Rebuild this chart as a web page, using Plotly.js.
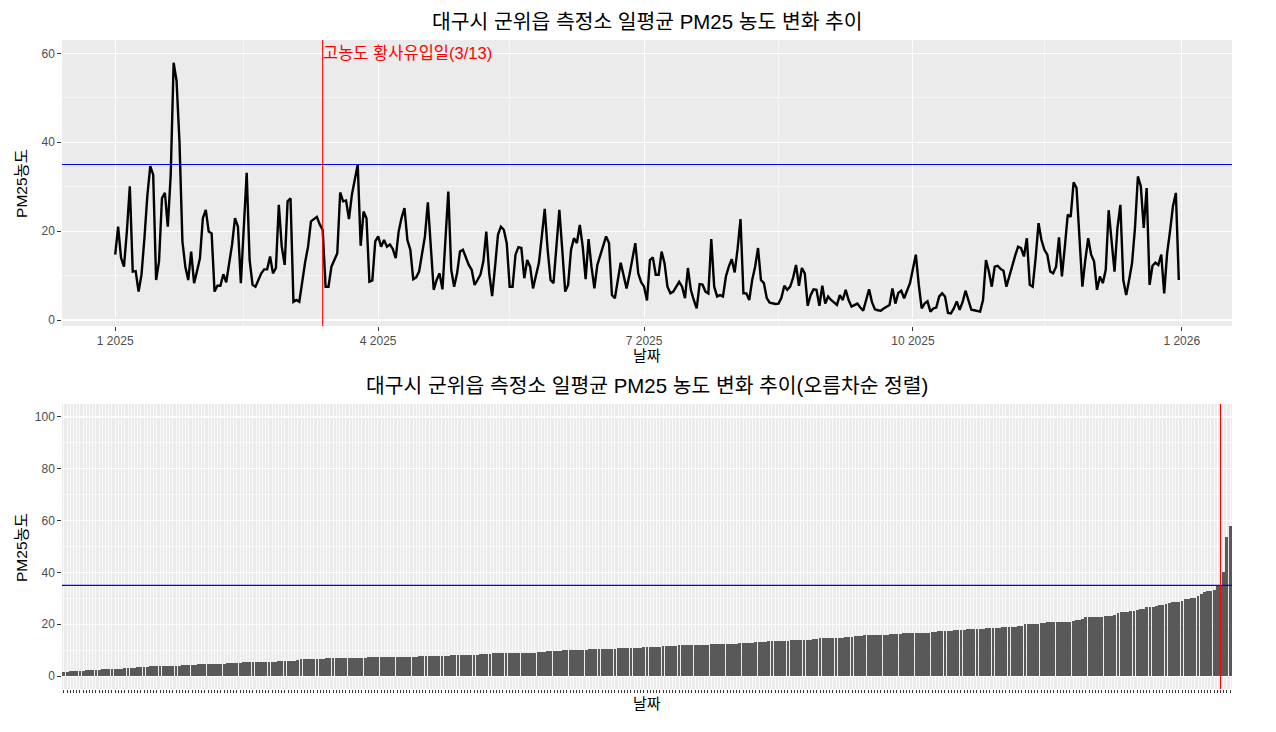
<!DOCTYPE html>
<html>
<head>
<meta charset="utf-8">
<script src="https://cdn.plot.ly/plotly-3.0.1.min.js"></script>
<style>
  html, body { margin: 0; padding: 0; background: #ffffff; }
  #chart { width: 1276px; height: 732px; }
</style>
</head>
<body>
<div id="chart"></div>
<script>
// ---- data (daily mean PM2.5, 2025-01-01 .. 2025-12-31) ----
const startDate = '2025-01-01';
const pm25 = [
  14.7, 21.0, 14.0, 12.0, 20.0, 30.1, 10.9, 11.0, 6.4, 10.2,
  18.4, 28.0, 34.6, 32.7, 9.0, 13.2, 27.4, 28.6, 21.0, 32.7,
  57.9, 53.8, 40.0, 17.7, 12.0, 9.0, 15.4, 8.3, 11.0, 13.9,
  22.9, 24.8, 19.9, 19.5, 6.4, 7.7, 7.7, 10.3, 8.5, 12.4,
  17.0, 22.9, 21.0, 8.3, 21.0, 33.1, 13.5, 7.9, 7.5, 9.0,
  10.5, 11.4, 11.4, 14.3, 10.5, 11.7, 25.9, 16.5, 12.4, 26.7,
  27.4, 4.1, 4.5, 4.1, 9.0, 13.0, 16.5, 22.2, 22.7, 23.2,
  21.5, 20.3, 7.5, 7.5, 12.0, 13.5, 15.0, 28.7, 26.7, 26.9,
  22.7, 28.2, 31.5, 35.0, 16.7, 24.4, 22.9, 8.6, 8.9, 17.7,
  18.8, 16.5, 18.0, 16.5, 17.0, 16.0, 13.9, 19.9, 23.0, 25.2,
  18.0, 15.8, 9.2, 9.6, 10.9, 15.0, 18.8, 26.5, 17.3, 6.8,
  9.0, 10.5, 6.9, 18.0, 28.9, 11.3, 7.5, 10.5, 15.4, 15.8,
  13.9, 12.4, 11.3, 7.9, 9.0, 10.2, 13.2, 19.9, 10.5, 5.4,
  12.0, 19.2, 21.0, 20.3, 17.3, 7.5, 7.5, 14.7, 16.4, 16.2,
  9.4, 13.5, 12.0, 7.1, 10.0, 12.8, 18.8, 25.0, 15.8, 9.0,
  8.3, 17.7, 24.8, 15.8, 6.4, 7.9, 15.8, 18.4, 17.3, 21.4,
  16.5, 9.2, 18.2, 12.0, 7.1, 12.4, 14.7, 16.5, 18.8, 17.3,
  5.6, 4.9, 9.0, 12.9, 10.0, 7.1, 10.2, 14.0, 17.3, 10.5,
  8.5, 7.5, 4.4, 13.5, 14.1, 10.2, 10.2, 15.4, 12.8, 7.5,
  6.0, 6.4, 7.5, 8.6, 7.5, 4.9, 11.7, 6.8, 4.5, 2.6,
  8.1, 8.0, 6.4, 6.0, 18.2, 7.5, 5.3, 5.6, 5.3, 9.8,
  12.0, 13.7, 10.7, 16.0, 22.7, 6.0, 6.0, 4.5, 9.0, 12.0,
  16.2, 9.0, 8.3, 4.9, 3.9, 3.7, 3.6, 3.7, 5.0, 7.7,
  6.8, 7.5, 9.5, 12.4, 7.7, 11.7, 10.5, 3.2, 5.6, 6.9,
  6.8, 3.2, 7.7, 3.7, 5.3, 4.5, 3.9, 3.4, 5.6, 4.5,
  6.8, 4.5, 3.0, 3.4, 3.7, 2.8, 2.1, 4.5, 6.9, 4.0,
  2.4, 2.2, 2.1, 2.6, 3.0, 3.4, 7.1, 3.7, 6.1, 6.6,
  4.9, 6.5, 8.3, 11.5, 14.7, 8.0, 2.6, 3.7, 4.2, 1.9,
  2.6, 2.8, 5.3, 6.0, 5.3, 1.6, 1.5, 2.6, 4.2, 2.3,
  4.0, 6.6, 4.5, 2.3, 2.2, 2.1, 1.9, 4.5, 13.5, 10.9,
  7.5, 12.0, 12.2, 11.5, 11.1, 7.5, 10.0, 12.4, 14.5, 16.5,
  16.2, 14.3, 18.4, 7.9, 7.5, 14.0, 21.8, 18.0, 15.8, 14.7,
  10.9, 10.5, 12.0, 18.6, 9.8, 16.5, 23.7, 23.2, 31.0, 29.7,
  18.8, 7.5, 13.5, 18.4, 14.7, 13.2, 6.8, 9.8, 8.3, 11.3,
  24.7, 17.7, 10.9, 20.7, 25.9, 9.0, 5.6, 9.0, 12.8, 20.7,
  32.3, 30.1, 20.7, 29.7, 7.9, 12.2, 12.9, 12.4, 14.7, 6.0,
  15.0, 20.0, 25.6, 28.6, 9.0
];
const standardLine = 35;                 // PM2.5 standard (blue line)
const dustDate = '2025-03-13';           // 고농도 황사유입일
const dustLabel = '고농도 황사유입일(3/13)';
const sortedMarkIndex = 361;             // red marker position in the sorted panel
const xTickVals = ['2025-01-01', '2025-04-01', '2025-07-01', '2025-10-01', '2026-01-01'];
const xMinorVals = ['2024-11-15', '2025-02-14', '2025-05-16', '2025-08-16', '2025-11-15', '2026-02-15'];
const title1 = '대구시 군위읍 측정소 일평균 PM25 농도 변화 추이';
const title2 = '대구시 군위읍 측정소 일평균 PM25 농도 변화 추이(오름차순 정렬)';
const xTitle = '날짜';
const yTitle = 'PM25농도';

// ---- derived ----
const dates = pm25.map((_, i) => {
  const d = new Date(startDate + 'T00:00:00Z');
  d.setUTCDate(d.getUTCDate() + i);
  return d.toISOString().slice(0, 10);
});
const sorted = pm25.slice().sort((a, b) => a - b);
const sortedIdx = sorted.map((_, i) => i);

const FONT = 'Liberation Sans, Arial, Noto Sans CJK KR, sans-serif';
const tickFont = { family: FONT, size: 12, color: '#4D4D4D' };

const traces = [
  {
    type: 'scatter', mode: 'lines', x: dates, y: pm25,
    xaxis: 'x', yaxis: 'y',
    line: { color: '#000000', width: 2.4 },
    hoverinfo: 'x+y', showlegend: false
  },
  {
    type: 'bar', x: sortedIdx, y: sorted,
    xaxis: 'x2', yaxis: 'y2',
    marker: { color: '#595959', line: { width: 0 } },
    width: 0.9, showlegend: false
  }
];

const commonAxis = {
  showline: false, zeroline: false,
  gridcolor: '#FFFFFF', gridwidth: 1.1,
  ticks: 'outside', ticklen: 3.7, tickwidth: 1, tickcolor: '#333333',
  tickfont: tickFont
};

const layout = {
  width: 1276, height: 732,
  margin: { l: 62, r: 44, t: 40, b: 43, pad: 0 },
  paper_bgcolor: '#FFFFFF', plot_bgcolor: '#EBEBEB',
  showlegend: false,
  bargap: 0,
  xaxis: Object.assign({}, commonAxis, {
    domain: [0, 1], anchor: 'y', type: 'date',
    range: ['2024-12-13 19:00', '2026-01-18 05:00'],
    tickmode: 'array', tickvals: xTickVals, tickformat: '%-m %Y',
    minor: { tickmode: 'array', tickvals: xMinorVals, showgrid: true, gridcolor: '#FFFFFF', gridwidth: 0.55, ticks: '' }
  }),
  yaxis: Object.assign({}, commonAxis, {
    domain: [0.5593, 1], anchor: 'x',
    range: [-1.35, 63.0],
    tickmode: 'array', tickvals: [0, 20, 40, 60],
    minor: { tickmode: 'array', tickvals: [10, 30, 50], showgrid: true, gridcolor: '#FFFFFF', gridwidth: 0.55, ticks: '' }
  }),
  xaxis2: Object.assign({}, commonAxis, {
    domain: [0, 1], anchor: 'y2',
    range: [-0.6, pm25.length - 0.4],
    tickmode: 'linear', tick0: 0, dtick: 1,
    showticklabels: false, ticklen: 3, gridwidth: 0.8
  }),
  yaxis2: Object.assign({}, commonAxis, {
    domain: [0, 0.4391], anchor: 'x2',
    range: [-5, 105],
    tickmode: 'array', tickvals: [0, 20, 40, 60, 80, 100],
    minor: { tickmode: 'array', tickvals: [10, 30, 50, 70, 90], showgrid: true, gridcolor: '#FFFFFF', gridwidth: 0.55, ticks: '' }
  }),
  shapes: [
    { type: 'line', xref: 'x domain', x0: 0, x1: 1, yref: 'y', y0: standardLine, y1: standardLine,
      line: { color: '#0000FF', width: 1.1 } },
    { type: 'line', xref: 'x', x0: dustDate, x1: dustDate, yref: 'y domain', y0: 0, y1: 1,
      line: { color: '#FF0000', width: 1.1 } },
    { type: 'line', xref: 'x2 domain', x0: 0, x1: 1, yref: 'y2', y0: standardLine, y1: standardLine,
      line: { color: '#0000FF', width: 1.1 } },
    { type: 'line', xref: 'x2', x0: sortedMarkIndex, x1: sortedMarkIndex, yref: 'y2 domain', y0: 0, y1: 1,
      line: { color: '#FF0000', width: 1.1 } }
  ],
  annotations: [
    { text: title1, xref: 'paper', yref: 'paper', x: 0.5, y: 1.0277, xanchor: 'center', yanchor: 'middle',
      showarrow: false, font: { family: FONT, size: 20.4, color: '#000000' } },
    { text: title2, xref: 'paper', yref: 'paper', x: 0.5, y: 0.4669, xanchor: 'center', yanchor: 'middle',
      showarrow: false, font: { family: FONT, size: 20.4, color: '#000000' } },
    { text: xTitle, xref: 'paper', yref: 'paper', x: 0.5, y: 0.5138, xanchor: 'center', yanchor: 'middle',
      showarrow: false, font: { family: FONT, size: 15, color: '#000000' } },
    { text: xTitle, xref: 'paper', yref: 'paper', x: 0.5, y: -0.0216, xanchor: 'center', yanchor: 'middle',
      showarrow: false, font: { family: FONT, size: 15, color: '#000000' } },
    { text: yTitle, xref: 'paper', yref: 'paper', x: -0.0342, y: 0.7797, xanchor: 'center', yanchor: 'middle',
      textangle: -90, showarrow: false, font: { family: FONT, size: 15.5, color: '#000000' } },
    { text: yTitle, xref: 'paper', yref: 'paper', x: -0.0342, y: 0.2188, xanchor: 'center', yanchor: 'middle',
      textangle: -90, showarrow: false, font: { family: FONT, size: 15.5, color: '#000000' } },
    { text: dustLabel, xref: 'x', yref: 'y', x: dustDate, y: 60, xanchor: 'left', yanchor: 'middle', xshift: -2,
      showarrow: false, font: { family: FONT, size: 16.5, color: '#FF0000' } }
  ]
};

Plotly.newPlot('chart', traces, layout, { displayModeBar: false, staticPlot: true });
</script>
</body>
</html>
